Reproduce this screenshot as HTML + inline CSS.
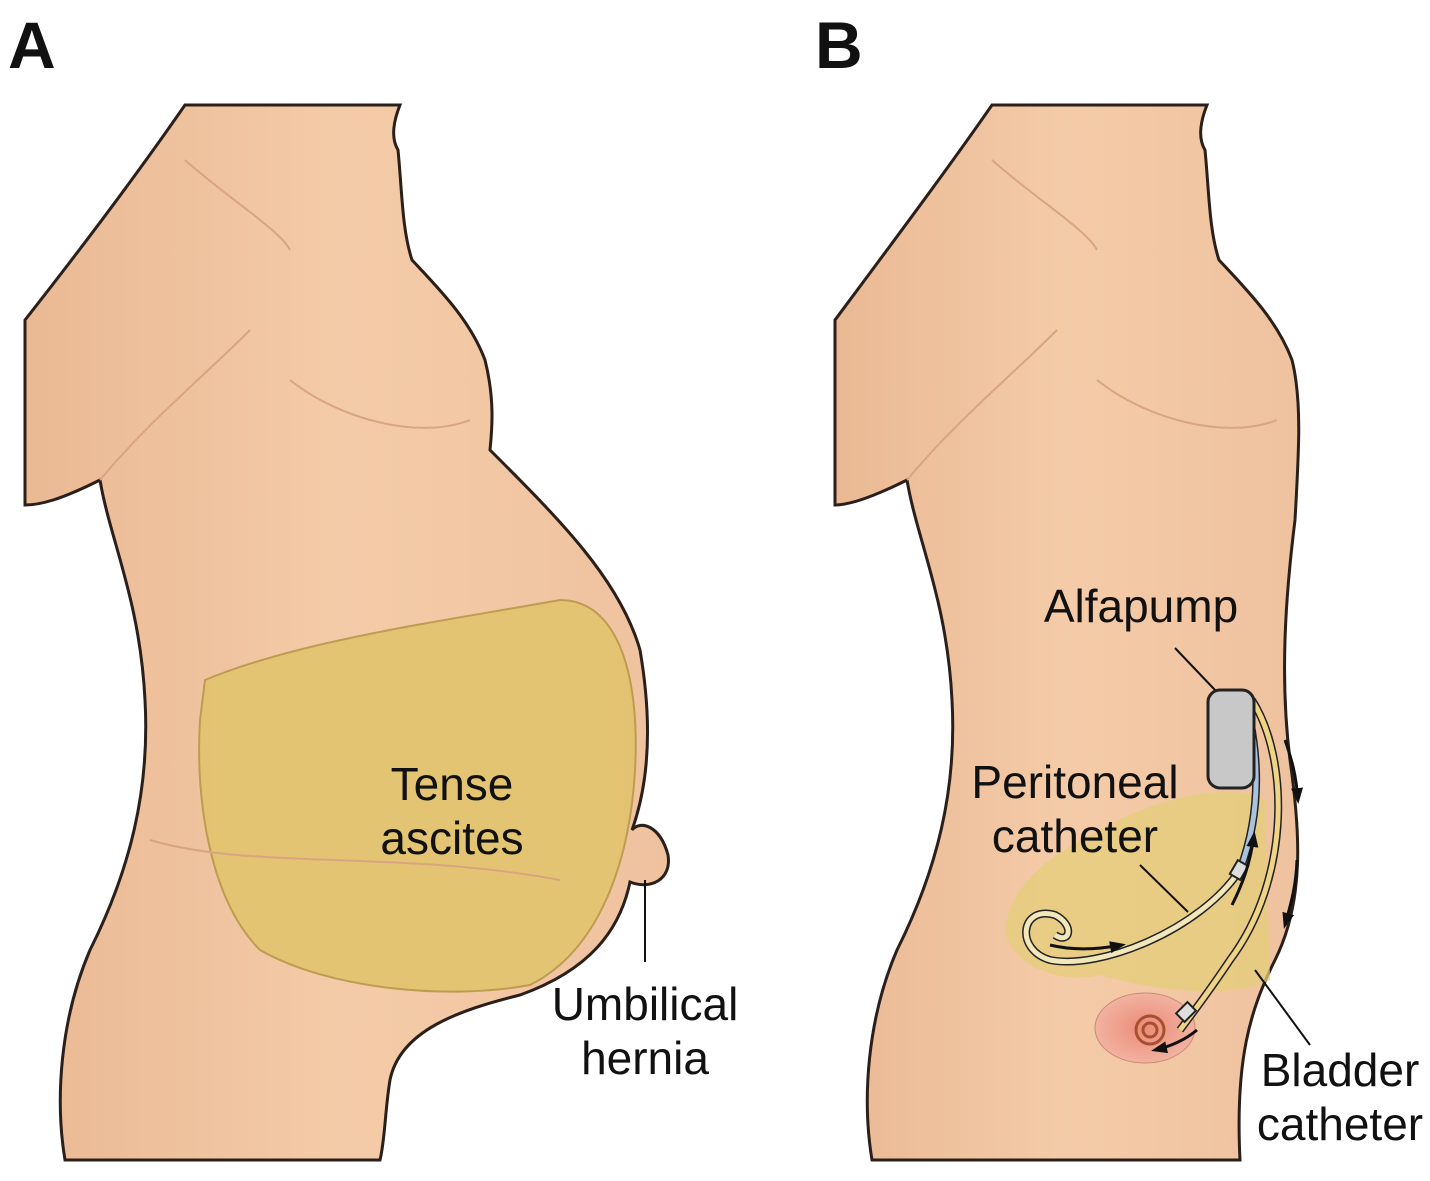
<!DOCTYPE html>
<html><head><style>
body{margin:0;background:#fff;width:1430px;height:1176px;overflow:hidden}
svg text{font-family:"Liberation Sans",sans-serif;fill:#111}
</style></head><body>
<svg width="1430" height="1176" viewBox="0 0 1430 1176">
<defs>
<linearGradient id="sk" x1="0" y1="0" x2="1" y2="0"><stop offset="0" stop-color="#eab994"/><stop offset="0.5" stop-color="#f4cba8"/><stop offset="1" stop-color="#efc29f"/></linearGradient>
<radialGradient id="bl" cx="0.5" cy="0.5" r="0.5"><stop offset="0" stop-color="#ec8a78"/><stop offset="1" stop-color="#f2b2a0"/></radialGradient>
<marker id="ah" markerWidth="16" markerHeight="12" refX="12" refY="6" orient="auto" markerUnits="userSpaceOnUse" viewBox="0 0 16 12"><path d="M0,0 L16,6 L0,12 z" fill="#111"/></marker>
</defs>
<text x="8" y="68" font-size="66" font-weight="bold">A</text>
<text x="815" y="68" font-size="66" font-weight="bold">B</text>

<!-- Panel A body -->
<path d="M185,105 L400,105 C392,125 392,140 398,150 C402,190 402,230 412,260 C440,290 470,320 485,360 C495,400 492,430 490,450 C560,520 620,580 640,650 C652,720 650,780 632,830 C640,820 660,825 668,855 C672,880 650,890 630,882 C620,930 590,970 520,995 C460,1010 400,1030 390,1080 C385,1110 385,1140 380,1160 L65,1160 C55,1100 60,1020 90,950 C130,870 150,790 145,700 C140,600 110,540 100,480 C60,500 40,505 25,505 L25,320 C80,250 140,170 185,105 Z" fill="url(#sk)" stroke="#2a1f1a" stroke-width="3"/>
<path d="M205,680 C300,640 450,620 560,600 C620,600 640,680 635,770 C630,860 600,950 530,985 C450,1000 330,990 260,950 C210,900 195,800 200,720 Z" fill="#e2c46d" stroke="#b8984a" stroke-width="2" opacity="0.9"/>
<g stroke="#d9a580" stroke-width="2" fill="none">
<path d="M100,480 C150,420 200,380 250,330"/><path d="M290,380 C340,420 420,440 470,420"/>
<path d="M185,160 C230,200 280,230 290,250"/><path d="M150,840 C250,870 400,850 560,880"/>
</g>
<line x1="645" y1="880" x2="645" y2="962" stroke="#111" stroke-width="2"/>
<text x="452" y="800" font-size="46" text-anchor="middle">Tense</text>
<text x="452" y="854" font-size="46" text-anchor="middle">ascites</text>
<text x="645" y="1020" font-size="46" text-anchor="middle">Umbilical</text>
<text x="645" y="1074" font-size="46" text-anchor="middle">hernia</text>

<!-- Panel B body -->
<path d="M992,105 L1207,105 C1199,125 1199,140 1205,150 C1209,190 1209,230 1219,260 C1247,290 1277,320 1292,360 C1302,400 1299,450 1295,520 C1285,600 1280,680 1290,760 C1300,830 1305,900 1275,960 C1250,1010 1235,1060 1240,1160 L872,1160 C862,1100 867,1020 897,950 C937,870 957,790 952,700 C947,600 917,540 907,480 C867,500 847,505 835,505 L835,320 C887,250 947,170 992,105 Z" fill="url(#sk)" stroke="#2a1f1a" stroke-width="3"/>
<path d="M1005,930 C1010,880 1060,850 1100,830 C1150,800 1230,780 1265,800 L1270,980 C1230,1000 1150,990 1100,975 C1060,985 1010,965 1005,930 Z" fill="#e6cd7a" opacity="0.75"/>
<ellipse cx="1145" cy="1028" rx="50" ry="35" fill="url(#bl)" stroke="#c98a7a"/>
<g stroke="#d9a580" stroke-width="2" fill="none">
<path d="M907,480 C957,420 1007,380 1057,330"/><path d="M1097,380 C1147,420 1227,440 1277,420"/>
<path d="M992,160 C1037,200 1087,230 1097,250"/>
</g>
<!-- tubes -->
<path d="M1252,700 C1290,760 1290,880 1230,960 C1210,990 1195,1010 1180,1030" fill="none" stroke="#222" stroke-width="8"/>
<path d="M1252,700 C1290,760 1290,880 1230,960 C1210,990 1195,1010 1180,1030" fill="none" stroke="#f0d485" stroke-width="5"/>
<path d="M1250,720 C1262,780 1255,830 1240,870" fill="none" stroke="#222" stroke-width="8"/>
<path d="M1250,720 C1262,780 1255,830 1240,870" fill="none" stroke="#a9c2dd" stroke-width="5"/>
<path d="M1240,870 C1200,930 1100,970 1050,960 C1015,950 1020,905 1055,915 C1075,925 1070,945 1055,935" fill="none" stroke="#222" stroke-width="8"/>
<path d="M1240,870 C1200,930 1100,970 1050,960 C1015,950 1020,905 1055,915 C1075,925 1070,945 1055,935" fill="none" stroke="#f2e6bb" stroke-width="5"/>
<rect x="1233" y="862" width="12" height="16" fill="#ddd" stroke="#222" stroke-width="2" transform="rotate(30 1239 870)"/>
<rect x="1180" y="1004" width="12" height="16" fill="#ddd" stroke="#222" stroke-width="2" transform="rotate(45 1186 1012)"/>
<circle cx="1150" cy="1030" r="14" fill="none" stroke="#a5502f" stroke-width="3"/>
<circle cx="1150" cy="1030" r="7" fill="none" stroke="#a5502f" stroke-width="3"/>
<rect x="1208" y="690" width="46" height="98" rx="12" fill="#c8c8c8" stroke="#222" stroke-width="3"/>
<g stroke="#111" stroke-width="3" fill="none" marker-end="url(#ah)">
<path d="M1285,740 C1292,760 1296,775 1298,800"/><path d="M1297,860 C1296,885 1292,900 1285,925"/><path d="M1232,905 C1242,885 1250,865 1254,835"/><path d="M1050,945 C1070,950 1095,950 1122,945"/><path d="M1197,1030 C1185,1040 1172,1046 1155,1050"/>
</g>
<g stroke="#111" stroke-width="2"><line x1="1175" y1="648" x2="1215" y2="690"/><line x1="1140" y1="865" x2="1188" y2="912"/><line x1="1255" y1="970" x2="1310" y2="1045"/></g>
<text x="1141" y="622" font-size="46" text-anchor="middle">Alfapump</text>
<text x="1075" y="798" font-size="46" text-anchor="middle">Peritoneal</text>
<text x="1075" y="852" font-size="46" text-anchor="middle">catheter</text>
<text x="1340" y="1086" font-size="46" text-anchor="middle">Bladder</text>
<text x="1340" y="1140" font-size="46" text-anchor="middle">catheter</text>
</svg>
</body></html>
